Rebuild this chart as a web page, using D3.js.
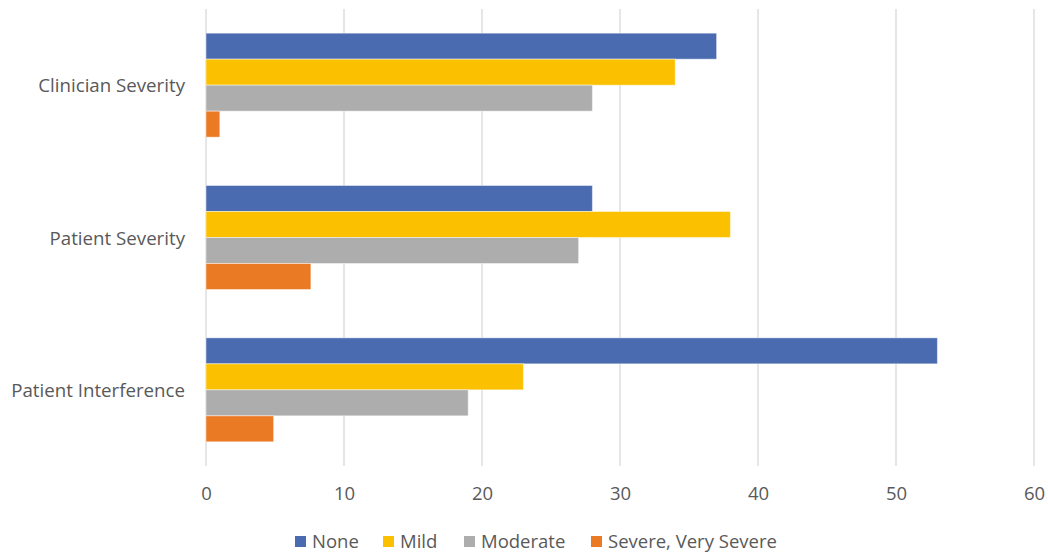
<!DOCTYPE html>
<html>
<head>
<meta charset="utf-8">
<script src="https://cdn.jsdelivr.net/npm/d3@7"></script>
<style>
  html, body { margin: 0; padding: 0; background: #fff; }
  svg { display: block; font-family: "Open Sans", sans-serif; }
</style>
</head>
<body>
<svg id="chart" width="1048" height="555"></svg>
<script>
// Response categories, top to bottom
const categories = ["Clinician Severity", "Patient Severity", "Patient Interference"];
// Severity levels (series)
const seriesNames = ["None", "Mild", "Moderate", "Severe, Very Severe"];
const seriesColors = ["#4A6BB0", "#FBC100", "#ADADAD", "#EB7A25"];
// Percent of responses per category, one array per series
const noneValues     = [37, 28, 53];
const mildValues     = [34, 38, 23];
const moderateValues = [28, 27, 19];
const severeValues   = [1, 7.6, 4.9];
const xTicks = [0, 10, 20, 30, 40, 50, 60];

const seriesValues = [noneValues, mildValues, moderateValues, severeValues];
const rows = categories.map((c, i) => ({
  category: c,
  values: seriesNames.map((s, j) => ({ series: s, color: seriesColors[j], value: seriesValues[j][i] }))
}));

const svg = d3.select("#chart");
const plot = { left: 206, right: 1034, top: 9, bottom: 466 };

const x = d3.scaleLinear().domain([0, 60]).range([plot.left, plot.right]);
const y0 = d3.scaleBand().domain(categories).range([plot.top, plot.bottom]).padding(0);
const y1 = d3.scaleBand().domain(seriesNames).range([0, y0.bandwidth()])
  .paddingInner(0).paddingOuter(0.93);

// Vertical gridlines
svg.append("g").selectAll("line").data(xTicks).join("line")
  .attr("x1", d => x(d)).attr("x2", d => x(d))
  .attr("y1", plot.top).attr("y2", plot.bottom)
  .attr("stroke", "#D9D9D9").attr("stroke-width", 1.3);

// Bars
const groups = svg.append("g").selectAll("g").data(rows).join("g")
  .attr("transform", d => `translate(0,${y0(d.category)})`);
groups.selectAll("rect").data(d => d.values).join("rect")
  .attr("x", x(0))
  .attr("y", d => y1(d.series))
  .attr("width", d => x(d.value) - x(0))
  .attr("height", y1.bandwidth())
  .attr("fill", d => d.color)
  .attr("stroke", "rgba(255,255,255,0.45)")
  .attr("stroke-width", 1);

// X axis tick labels
const xAxis = d3.axisBottom(x).tickValues(xTicks).tickSize(0).tickPadding(0);
const gx = svg.append("g").attr("transform", `translate(0,${plot.bottom + 21})`).call(xAxis);
gx.select(".domain").remove();
gx.selectAll("text").attr("font-size", 18.5).attr("fill", "#595959")
  .attr("font-family", "'Open Sans', sans-serif").attr("dy", "0.71em");

// Y axis category labels
const yAxis = d3.axisLeft(y0).tickSize(0).tickPadding(0);
const gy = svg.append("g").attr("transform", `translate(${plot.left - 21},0)`).call(yAxis);
gy.select(".domain").remove();
gy.selectAll("text").attr("font-size", 18.7).attr("fill", "#595959")
  .attr("font-family", "'Open Sans', sans-serif").attr("dy", "0.38em");

// Legend
const legendX = [295, 383, 464, 591];
const legend = svg.append("g").selectAll("g").data(seriesNames).join("g")
  .attr("transform", (d, i) => `translate(${legendX[i]},536)`);
legend.append("rect").attr("width", 11).attr("height", 11)
  .attr("fill", (d, i) => seriesColors[i]);
legend.append("text").attr("x", 17).attr("y", 6).attr("dy", "0.35em")
  .attr("font-size", 18.5).attr("fill", "#595959").text(d => d);
</script>
</body>
</html>
